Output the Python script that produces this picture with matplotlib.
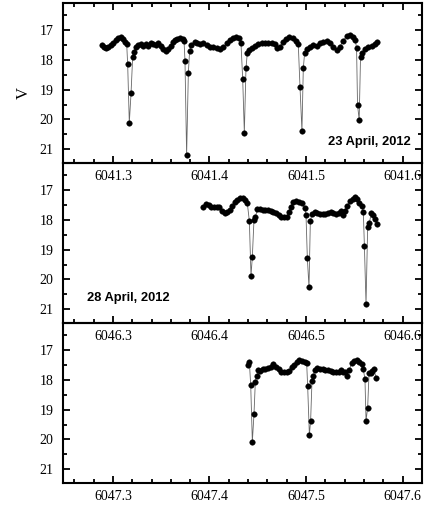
import matplotlib
matplotlib.use("Agg")
import matplotlib.pyplot as plt
from matplotlib.ticker import MultipleLocator, FormatStrFormatter

# ---------------- data ----------------
t1 = [6041.2883, 6041.2907, 6041.2927, 6041.2952, 6041.2976, 6041.3003, 6041.3031, 6041.3055,
      6041.3079, 6041.3100, 6041.3124, 6041.3142, 6041.3152, 6041.3169, 6041.3187, 6041.3204,
      6041.3221, 6041.3238, 6041.3263, 6041.3287, 6041.3314, 6041.3342, 6041.3366, 6041.3390,
      6041.3418, 6041.3446, 6041.3470, 6041.3494, 6041.3522, 6041.3546, 6041.3573, 6041.3598,
      6041.3618, 6041.3642, 6041.3667, 6041.3694, 6041.3722, 6041.3736, 6041.3746, 6041.3763,
      6041.3781, 6041.3794, 6041.3812, 6041.3850, 6041.3874, 6041.3902, 6041.3936, 6041.3971,
      6041.4005, 6041.4040, 6041.4081, 6041.4109, 6041.4143, 6041.4178, 6041.4212, 6041.4247,
      6041.4275, 6041.4302, 6041.4326, 6041.4344, 6041.4361, 6041.4378, 6041.4392, 6041.4413,
      6041.4437, 6041.4472, 6041.4506, 6041.4541, 6041.4575, 6041.4610, 6041.4644, 6041.4679,
      6041.4703, 6041.4731, 6041.4758, 6041.4793, 6041.4827, 6041.4862, 6041.4896, 6041.4920,
      6041.4938, 6041.4958, 6041.4972, 6041.4986, 6041.5007, 6041.5041, 6041.5076, 6041.5110,
      6041.5145, 6041.5179, 6041.5214, 6041.5248, 6041.5283, 6041.5317, 6041.5352, 6041.5386,
      6041.5421, 6041.5455, 6041.5490, 6041.5511, 6041.5524, 6041.5534, 6041.5551, 6041.5565,
      6041.5583, 6041.5610, 6041.5645, 6041.5679, 6041.5714, 6041.5738]
v1 = [17.503, 17.559, 17.592, 17.559, 17.503, 17.425, 17.335, 17.257,
      17.223, 17.313, 17.391, 17.469, 18.140, 20.106, 19.123, 17.894,
      17.726, 17.559, 17.503, 17.469, 17.536, 17.480, 17.525, 17.447,
      17.469, 17.503, 17.447, 17.536, 17.648, 17.693, 17.648, 17.536,
      17.391, 17.335, 17.313, 17.279, 17.313, 17.358, 18.028, 21.190,
      18.430, 17.693, 17.503, 17.391, 17.447, 17.480, 17.447, 17.503,
      17.559, 17.559, 17.615, 17.648, 17.581, 17.447, 17.335, 17.257,
      17.223, 17.279, 17.425, 18.642, 20.441, 18.285, 17.760, 17.670,
      17.615, 17.536, 17.469, 17.447, 17.447, 17.425, 17.447, 17.480,
      17.615, 17.559, 17.413, 17.302, 17.246, 17.279, 17.358, 17.480,
      18.922, 20.385, 18.285, 17.760, 17.648, 17.581, 17.503, 17.536,
      17.447, 17.391, 17.358, 17.447, 17.559, 17.670, 17.559, 17.358,
      17.201, 17.168, 17.223, 17.335, 17.615, 19.514, 20.017, 17.916,
      17.782, 17.648, 17.581, 17.525, 17.469, 17.391]

t2 = [6046.3936, 6046.3964, 6046.3992, 6046.4019, 6046.4047, 6046.4075, 6046.4102, 6046.4130,
      6046.4157, 6046.4185, 6046.4213, 6046.4237, 6046.4261, 6046.4288, 6046.4316, 6046.4344,
      6046.4368, 6046.4392, 6046.4413, 6046.4430, 6046.4444, 6046.4461, 6046.4475, 6046.4496,
      6046.4524, 6046.4551, 6046.4579, 6046.4606, 6046.4634, 6046.4661, 6046.4689, 6046.4717,
      6046.4744, 6046.4772, 6046.4799, 6046.4820, 6046.4841, 6046.4865, 6046.4896, 6046.4924,
      6046.4959, 6046.4986, 6046.5000, 6046.5014, 6046.5031, 6046.5045, 6046.5062, 6046.5090,
      6046.5118, 6046.5145, 6046.5173, 6046.5200, 6046.5228, 6046.5256, 6046.5283, 6046.5311,
      6046.5339, 6046.5359, 6046.5380, 6046.5401, 6046.5429, 6046.5456, 6046.5484, 6046.5508,
      6046.5532, 6046.5553, 6046.5577, 6046.5594, 6046.5605, 6046.5622, 6046.5639, 6046.5656,
      6046.5677, 6046.5698, 6046.5718, 6046.5736]
v2 = [17.559, 17.469, 17.503, 17.559, 17.559, 17.581, 17.559, 17.693,
      17.760, 17.749, 17.670, 17.536, 17.413, 17.335, 17.268, 17.257,
      17.335, 17.447, 18.039, 19.883, 19.235, 18.006, 17.916, 17.648,
      17.648, 17.670, 17.670, 17.670, 17.693, 17.726, 17.782, 17.849,
      17.894, 17.916, 17.894, 17.726, 17.559, 17.413, 17.369, 17.391,
      17.425, 17.615, 17.838, 19.291, 20.263, 18.039, 17.816, 17.726,
      17.760, 17.793, 17.804, 17.804, 17.782, 17.737, 17.760, 17.804,
      17.782, 17.693, 17.838, 17.693, 17.525, 17.380, 17.291, 17.246,
      17.313, 17.447, 17.536, 17.726, 18.866, 20.832, 18.229, 18.117,
      17.760, 17.827, 17.983, 18.151]

t3 = [6047.4396, 6047.4413, 6047.4427, 6047.4444, 6047.4461, 6047.4475, 6047.4489, 6047.4506,
      6047.4527, 6047.4551, 6047.4579, 6047.4606, 6047.4634, 6047.4661, 6047.4689, 6047.4717,
      6047.4744, 6047.4772, 6047.4799, 6047.4827, 6047.4851, 6047.4876, 6047.4903, 6047.4931,
      6047.4959, 6047.4986, 6047.5007, 6047.5017, 6047.5035, 6047.5048, 6047.5062, 6047.5076,
      6047.5093, 6047.5117, 6047.5145, 6047.5173, 6047.5200, 6047.5228, 6047.5256, 6047.5283,
      6047.5311, 6047.5339, 6047.5366, 6047.5387, 6047.5408, 6047.5429, 6047.5449, 6047.5473,
      6047.5498, 6047.5525, 6047.5553, 6047.5577, 6047.5594, 6047.5611, 6047.5622, 6047.5639,
      6047.5653, 6047.5670, 6047.5687, 6047.5705, 6047.5725]
v3 = [17.514, 17.402, 18.173, 20.073, 19.156, 18.061, 17.872, 17.670,
      17.693, 17.648, 17.626, 17.603, 17.559, 17.480, 17.559, 17.648,
      17.726, 17.749, 17.726, 17.693, 17.559, 17.492, 17.402, 17.335,
      17.358, 17.402, 17.447, 18.196, 19.849, 19.369, 18.039, 17.872,
      17.670, 17.615, 17.637, 17.648, 17.670, 17.670, 17.693, 17.726,
      17.737, 17.726, 17.670, 17.726, 17.726, 17.872, 17.670, 17.447,
      17.369, 17.335, 17.391, 17.480, 17.648, 17.983, 19.369, 18.933,
      17.782, 17.760, 17.693, 17.637, 17.927]

x_starts = [6041.2482, 6046.2482, 6047.2482]
dates = ["23 April, 2012", "28 April, 2012", ""]
y_label = "V"

# ---------------- figure ----------------
fig = plt.figure(figsize=(4.27, 5.08), dpi=100)
fig.patch.set_facecolor("white")

L, R = 63 / 427, 422 / 427
tops = [3, 163, 323]
H = 160
series = [(t1, v1), (t2, v2), (t3, v3)]

serif = ["Liberation Serif", "DejaVu Serif"]

for i, ((t, v), x0) in enumerate(zip(series, x_starts)):
    bottom = 1 - (tops[i] + H) / 508
    ax = fig.add_axes([L, bottom, R - L, H / 508])
    ax.set_facecolor("none")
    ax.set_zorder(10 - i)
    ax.plot(t, v, "-", color="0.4", lw=0.6, zorder=2)
    ax.plot(t, v, "o", color="black", ms=4.0, mec="black", mew=0.3, zorder=3)
    ax.set_xlim(x0, x0 + 0.372)
    ax.set_ylim(21.459, 16.095)
    ax.xaxis.set_major_locator(MultipleLocator(0.1))
    ax.xaxis.set_minor_locator(MultipleLocator(0.02))
    ax.xaxis.set_major_formatter(FormatStrFormatter("%.1f"))
    ax.yaxis.set_major_locator(MultipleLocator(1))
    ax.yaxis.set_minor_locator(MultipleLocator(0.5))
    for s in ax.spines.values():
        s.set_linewidth(1.5)
    ax.tick_params(axis="both", which="both", direction="in", width=1.3,
                   top=(i == 0), right=True, bottom=True, left=True)
    ax.tick_params(axis="both", which="major", length=5)
    ax.tick_params(axis="both", which="minor", length=3)
    ax.tick_params(axis="x", which="major", pad=5)
    ax.tick_params(axis="y", which="major", pad=7)
    for lab in ax.get_xticklabels() + ax.get_yticklabels():
        lab.set_fontfamily(serif)
        lab.set_fontsize(10)
    if i == 0:
        ax.text(0.969, 0.131, dates[i], transform=ax.transAxes, ha="right", va="center",
                fontsize=9.3, fontweight="bold", family=["Liberation Sans", "DejaVu Sans"])
    elif i == 1:
        ax.text(0.067, 0.156, dates[i], transform=ax.transAxes, ha="left", va="center",
                fontsize=9.3, fontweight="bold", family=["Liberation Sans", "DejaVu Sans"])

fig.text(24 / 427, 1 - 93 / 508, y_label, rotation=90, ha="center", va="center",
         fontsize=12, family=serif)

fig.savefig("out.png", dpi=100)
